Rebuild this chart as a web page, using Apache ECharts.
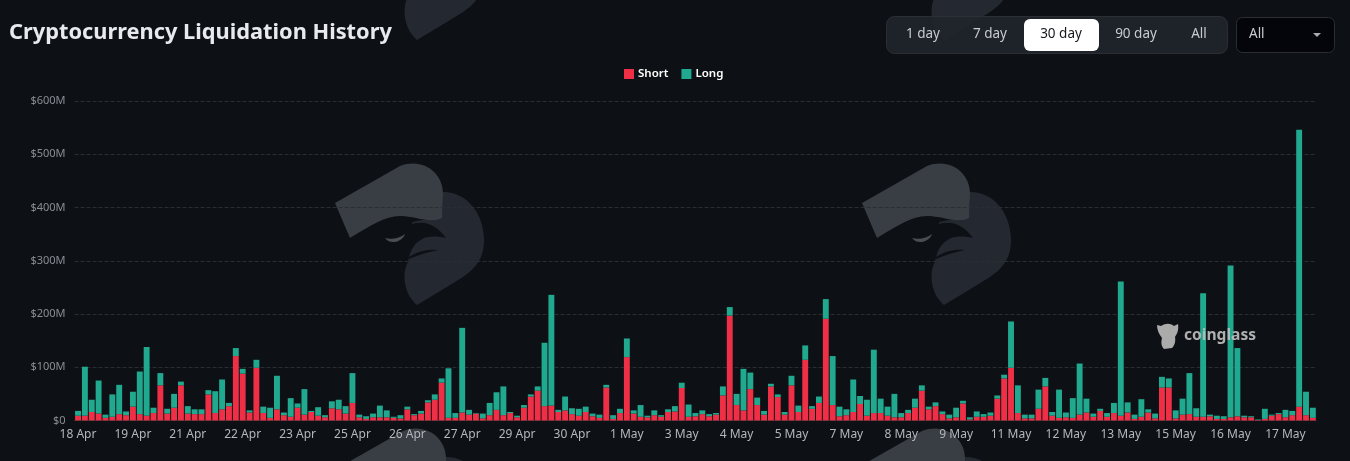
<!DOCTYPE html>
<html><head><meta charset="utf-8">
<style>html,body{margin:0;padding:0;background:#0d1015}#c{width:1350px;height:461px}</style>
<script src="https://cdn.jsdelivr.net/npm/echarts@6/dist/echarts.min.js"></script>
</head><body><div id="c"></div>
<script>
const tickLabels = ['18 Apr','19 Apr','21 Apr','22 Apr','23 Apr','25 Apr','26 Apr','27 Apr','29 Apr','30 Apr','1 May','3 May','4 May','5 May','7 May','8 May','9 May','11 May','12 May','13 May','15 May','16 May','17 May'];
const shortValues = [9,9,16,13,5,7,12,10,26,12,9,14,66,13,24,66,13,12,12,49,14,21,27,121,88,15,99,14,5,21,10,7,24,11,16,9,6,23,21,13,33,6,3,6,6,6,
5,4,21,10,13,34,39,71,5,5,15,11,13,4,10,20,10,14,6,24,45,56,27,28,16,19,12,9,16,8,5,62,3,14,119,13,7,6,10,7,16,17,61,7,8,12,8,
11,47,197,29,19,59,29,11,64,44,11,66,16,114,22,33,191,29,8,10,16,31,9,14,14,9,6,6,14,24,56,21,27,12,4,6,32,2,7,7,9,41,79,
99,14,4,4,22,64,9,5,6,5,11,15,7,18,7,14,9,15,3,7,15,4,62,62,4,11,12,7,7,8,3,3,6,8,6,6,1,3,9,12,6,10,26,10,5];
const longValues = [9,92,23,62,6,42,55,7,28,80,129,10,23,9,26,7,14,9,9,8,41,56,6,15,9,4,15,12,19,63,5,35,8,48,2,16,4,13,18,14,56,5,5,7,22,13,
2,6,5,2,5,4,10,8,93,9,159,9,1,9,23,33,54,2,3,5,4,8,119,208,4,26,11,13,10,5,6,5,7,8,35,6,22,3,9,3,5,10,10,23,6,7,4,
3,17,16,21,78,31,14,7,5,5,5,18,12,27,5,12,37,92,18,11,61,15,30,119,27,17,44,8,6,17,10,5,7,5,7,18,5,4,10,5,6,6,7,
87,52,7,7,36,16,7,53,9,37,96,26,6,4,7,19,252,19,8,33,6,9,20,17,15,30,77,16,232,3,6,5,285,128,3,2,1,19,2,2,14,8,520,44,19];
const categories = shortValues.map((_, i) => i % 8 === 0 ? tickLabels[i / 8] : '');
const rangeButtons = [['1 day',923],['7 day',990],['30 day',1061],['90 day',1136],['All',1199]];

const FONT = '"Noto Sans", sans-serif';
const BG = '#0d1015';
const shapes = {
  wmUpper: 'M335,203 L400,166 C425,157 444,175 443,195 L442,218 C430,224 415,216 400,216 C385,216 370,226 350,238 Z',
  wmLower: 'M443,192 C468,192 484,215 484,240 C484,262 472,272 455,282 L417,305 C403,293 402,272 408,262 L412,240 L412,222 L442,216 Z',
  wmHead: 'M377,223 C388,218 400,216 407,217 L412,224 C425,220 437,225 446,238 C438,236 430,236 424,238 C414,243 411,250 409,257 C402,262 400,262 398,240 C390,240 384,232 377,223 Z',
  wmFeather: 'M409,257 C418,251 428,249 438,250 C428,252 418,255 409,259 Z',
  wmEye: 'M385,238 C392,240 400,238 405,234 C403,241 391,246 385,238 Z',
  cgLogo: 'M1157,325 L1161,326 C1166,323 1170,323 1174,326 L1178,324 C1179,330 1177,334 1175,337 C1176,342 1174,346 1172,348 L1164,349 C1161,346 1161,342 1162,338 C1159,334 1157,330 1157,325 Z'
};
Object.keys(shapes).forEach(k => echarts.graphic.registerShape(k, echarts.graphic.extendPath(shapes[k])));
function eagle(dx, dy) {
  return [
    {type:'wmLower',x:dx,y:dy,z:-5,silent:true,style:{fill:'#262b33',opacity:.95}},
    {type:'wmUpper',x:dx,y:dy,z:-4,silent:true,style:{fill:'#3c4047',opacity:.95}},
    {type:'wmHead',x:dx,y:dy,z:-3,silent:true,style:{fill:BG}},
    {type:'wmFeather',x:dx,y:dy,z:-3,silent:true,style:{fill:BG}},
    {type:'wmEye',x:dx,y:dy,z:-2,silent:true,style:{fill:'#4a4e54'}}
  ];
}
const buttons = [
  {type:'rect',z:5,shape:{x:886.5,y:16.5,width:341,height:37,r:8},style:{fill:'#20252b',stroke:'#2c3036',opacity:.95}},
  {type:'rect',z:6,shape:{x:1024,y:19,width:75,height:32,r:6},style:{fill:'#ffffff'}},
  {type:'rect',z:5,shape:{x:1236.5,y:17.5,width:98,height:35,r:6},style:{fill:'#04050a',stroke:'#2a2d33'}},
  {type:'text',z:7,x:1249,y:34.5,style:{text:'All',font:'13.5px '+FONT,fill:'#c8ccd0',textVerticalAlign:'middle'}},
  {type:'polygon',z:7,shape:{points:[[1313,33],[1321,33],[1317,37]]},style:{fill:'#a8acb0'}}
].concat(rangeButtons.map(([t,x]) => ({type:'text',z:7,x,y:34.5,style:{text:t,font:'13.5px '+FONT,fill:t==='30 day'?'#15181c':'#c8ccd0',textAlign:'center',textVerticalAlign:'middle'}})));
const logo = [
  {type:'cgLogo',z:20,silent:true,style:{fill:'#b4b4b4',opacity:.95}},
  {type:'text',z:20,silent:true,x:1184,y:336,style:{text:'coinglass',font:'bold 15.6px '+FONT,fill:'#bdbdbd',opacity:.92,textVerticalAlign:'middle'}}
];
const chart = echarts.init(document.getElementById('c'), null, {renderer:'canvas'});
chart.setOption({
  animation:false,
  backgroundColor:BG,
  textStyle:{fontFamily:FONT},
  title:{text:'Cryptocurrency Liquidation History',left:4,top:17,textStyle:{color:'#e8eaed',fontSize:21.8,fontWeight:'bold',fontFamily:FONT}},
  legend:{data:['Short','Long'],top:63,left:619,itemWidth:10,itemHeight:10,itemGap:13,icon:'rect',textStyle:{color:'#ffffff',fontSize:11.5,fontWeight:600,padding:[0,0,0,-1]}},
  grid:{left:74.6,top:101,width:1241.7,height:319.5,containLabel:false},
  xAxis:{type:'category',data:categories,axisTick:{show:false},axisLine:{show:true,lineStyle:{color:'#2a2d31'}},
    axisLabel:{interval:7,color:'#b4b8bc',fontSize:12,margin:8,showMinLabel:true,hideOverlap:false},splitLine:{show:false}},
  yAxis:{type:'value',min:0,max:600,interval:100,axisLine:{show:false},axisTick:{show:false},
    axisLabel:{color:'#8a8e94',fontSize:11,margin:9,formatter:v=>v===0?'$0':'$'+v+'M'},
    splitLine:{lineStyle:{color:'#2a2d31',type:'dashed'}}},
  series:[
    {name:'Short',type:'bar',stack:'t',data:shortValues,barWidth:5.9,itemStyle:{color:'#ee2f46'}},
    {name:'Long',type:'bar',stack:'t',data:longValues,barWidth:5.9,itemStyle:{color:'#20a98f'}}
  ],
  graphic:{elements:[...eagle(0,0),...eagle(527,0),...eagle(0,-265),...eagle(527,-265),...eagle(3,265),...eagle(522,265),...buttons,...logo]}
});
</script></body></html>
